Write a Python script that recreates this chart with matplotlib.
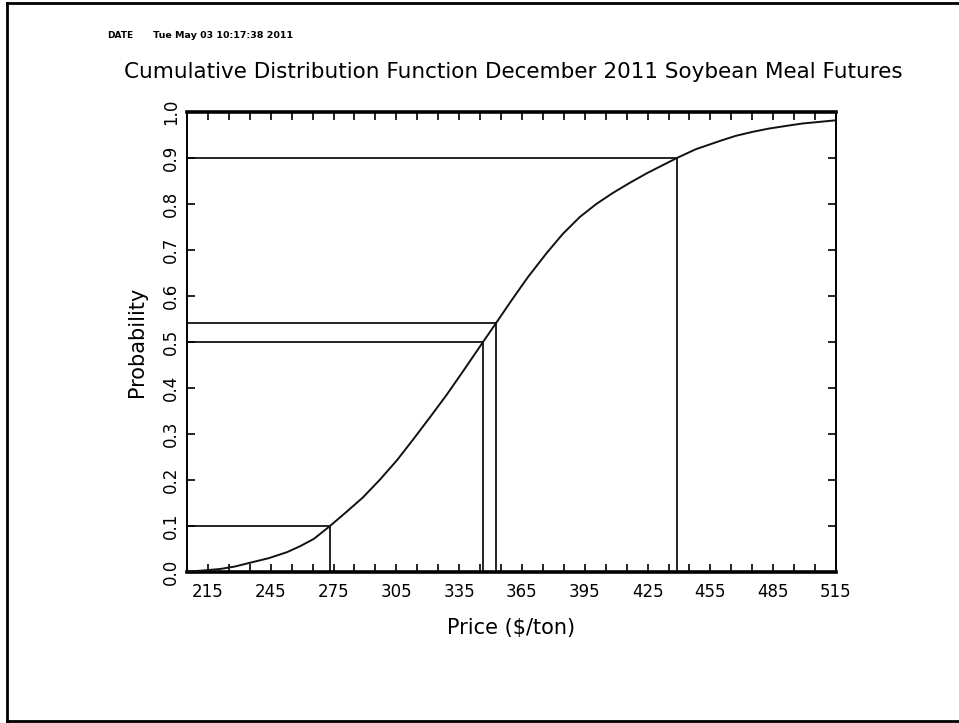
#!/usr/bin/env python3
# -*- coding: utf-8 -*-
"""
CDF chart - December 2011 Soybean Meal Futures
"""

import matplotlib
matplotlib.use('Agg')
import matplotlib.pyplot as plt
from matplotlib.ticker import FixedLocator
from matplotlib.lines import Line2D

# Curve: price ($/ton) and cumulative probability
price = [205, 212, 220.8, 228, 235, 244, 252.7, 259, 265.6, 273.3, 281, 289,
         297, 305.3, 313, 321, 329, 336.8, 346.4, 352.6, 360.7, 368, 376.9,
         384.5, 392.7, 400.5, 408.4, 416.5, 424.7, 439, 448, 459.5, 467,
         475.3, 483, 491.5, 499, 505.9, 515]
prob = [0.001, 0.003, 0.0065, 0.012, 0.02, 0.03, 0.043, 0.056, 0.072, 0.1,
        0.13, 0.162, 0.2, 0.243, 0.288, 0.336, 0.385, 0.436, 0.5, 0.541,
        0.595, 0.642, 0.694, 0.735, 0.772, 0.8, 0.824, 0.846, 0.867, 0.9,
        0.919, 0.937, 0.948, 0.957, 0.964, 0.970, 0.975, 0.978, 0.982]

# Quantile markers
q_prob = [0.1, 0.5, 0.541, 0.9]
q_price = [273.3, 346.4, 352.6, 439]

x_major = [215, 245, 275, 305, 335, 365, 395, 425, 455, 485, 515]
y_major = [0.0, 0.1, 0.2, 0.3, 0.4, 0.5, 0.6, 0.7, 0.8, 0.9, 1.0]

title = 'Cumulative Distribution Function December 2011 Soybean Meal Futures'
date_label = 'DATE'
date_text = 'Tue May 03 10:17:38 2011'

fig = plt.figure(figsize=(9.59, 7.23), dpi=100)
ax = fig.add_axes([187 / 959, 1 - 572 / 723, 649 / 959, 460 / 723])

ax.plot(price, prob, color='#111111', linewidth=1.4, zorder=4)

x_lo = 205
for p, x in zip(q_prob, q_price):
    ax.plot([x_lo, x], [p, p], color='black', linewidth=1.2)
    ax.plot([x, x], [0, p], color='black', linewidth=1.2)

ax.set_xlim(205, 515)
ax.set_ylim(0, 1)

ax.xaxis.set_major_locator(FixedLocator(x_major))
ax.xaxis.set_minor_locator(FixedLocator(list(range(215, 516, 10))))
ax.yaxis.set_major_locator(FixedLocator(y_major))
ax.set_yticklabels([f'{v:.1f}' for v in y_major], rotation=90, va='center')
ax.set_xticklabels([str(v) for v in x_major])

ax.tick_params(which='both', direction='in', top=True, right=True,
               length=6, width=1.2, labelsize=12)
ax.tick_params(axis='x', pad=8)
ax.tick_params(axis='y', pad=5)

for side in ['left', 'right']:
    ax.spines[side].set_linewidth(1.4)
for side in ['top', 'bottom']:
    ax.spines[side].set_linewidth(2.6)

ax.set_xlabel('Price ($/ton)', fontsize=15, labelpad=12)
ax.set_ylabel('Probability', fontsize=15, labelpad=11)

fig.text(513 / 959, 1 - 72 / 723, title, ha='center', va='center', fontsize=15.5)
fig.text(107 / 959, 1 - 36 / 723, date_label, ha='left', va='center',
         fontsize=6.5, fontweight='bold')
fig.text(153 / 959, 1 - 36 / 723, date_text, ha='left', va='center',
         fontsize=6.8, fontweight='bold')

# Outer page border
border = [
    Line2D([7 / 959, 7 / 959], [1 - 3 / 723, 1 - 721 / 723]),
    Line2D([7 / 959, 1.0], [1 - 3 / 723, 1 - 3 / 723]),
    Line2D([7 / 959, 1.0], [1 - 721 / 723, 1 - 721 / 723]),
]
for ln in border:
    ln.set_color('black')
    ln.set_linewidth(2)
    ln.set_transform(fig.transFigure)
    fig.add_artist(ln)

fig.savefig('out.png', dpi=100, facecolor='white')
